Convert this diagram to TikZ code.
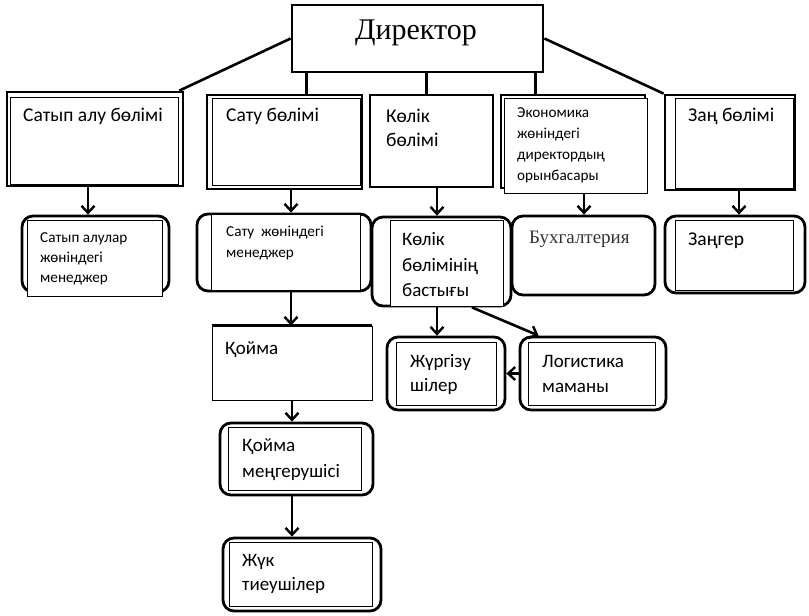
\documentclass[tikz,border=0pt]{standalone}
\usepackage{fontspec}
\setmainfont{Liberation Serif}
\newfontfamily\calfont{Carlito}
\usetikzlibrary{arrows.meta,calc}
\begin{document}
\begin{tikzpicture}[x=1pt,y=-1pt,
  thickbox/.style={draw, line width=2.8pt, inner sep=0, fill=white},
  roundbox/.style={draw, line width=2.8pt, inner sep=0, rounded corners=11pt, fill=white},
  thinbox/.style={draw, line width=0.9pt, inner sep=0, fill=white},
  conn/.style={line width=2.6pt},
  arr/.style={line width=2.6pt, -{Straight Barb[length=7pt,width=13pt,line width=2.4pt]}},
  tA/.style={anchor=base west, inner sep=0, font=\calfont\fontsize{19.5}{21}\selectfont},
  tB/.style={anchor=base west, inner sep=0, font=\calfont\fontsize{15.2}{17}\selectfont},
  tC/.style={anchor=base west, inner sep=0, font=\calfont\fontsize{19}{21}\selectfont}]
\useasboundingbox (0,0) rectangle (809,616);
\fill[white] (0,0) rectangle (809,616);

% Director
\node[thickbox, minimum width=251pt, minimum height=67pt] (dir) at (417.5,38.5) {};
\node[anchor=base, inner sep=0, font=\fontsize{30}{32}\selectfont] (dirt) at (416,39) {Директор};

% level 1
\node[thickbox, minimum width=176pt, minimum height=94pt] (sal) at (95,139) {};
\node[thinbox, minimum width=168pt, minimum height=87pt] (sali) at (94,140.5) {};
\node[tA] (salt) at (23,121) {Сатып алу бөлімі};

\node[thickbox, minimum width=155pt, minimum height=94pt] (satu) at (284.5,142) {};
\node[thinbox, minimum width=148pt, minimum height=87pt] (satui) at (286,141.5) {};
\node[tA] (satut) at (226,121) {Сату бөлімі};

\node[thickbox, minimum width=123pt, minimum height=92pt] (kolik) at (431.5,141) {};
\node[tA] (kolt1) at (386,122) {Көлік};
\node[tA] (kolt2) at (386,146) {бөлімі};

\node[thickbox, minimum width=144pt, minimum height=93pt] (econ) at (573,141.5) {};
\node[thinbox, minimum width=143pt, minimum height=95pt] (econi) at (575.5,145.5) {};
\node[tB] (ect1) at (517,117) {Экономика};
\node[tB] (ect2) at (517,138.5) {жөніндегі};
\node[tB] (ect3) at (517,159.5) {директордың};
\node[tB] (ect4) at (517,180.5) {орынбасары};

\node[thickbox, minimum width=130pt, minimum height=95pt] (zan) at (730,142.5) {};
\node[thinbox, minimum width=118pt, minimum height=90pt] (zani) at (734,143) {};
\node[tA] (zant) at (688,121) {Заң бөлімі};

% director connectors
\path ([xshift=16pt]dir.south west) coordinate (d1);
\path ([xshift=136pt]dir.south west) coordinate (d2);
\path ([xshift=245pt]dir.south west) coordinate (d3);
\draw[conn] (dir.west) -- ([xshift=-5pt]sal.north east);
\draw[conn] (d1) -- (d1 |- satu.north);
\draw[conn] (d2) -- (d2 |- kolik.north);
\draw[conn] (d3) -- (d3 |- econ.north);
\draw[conn] (dir.east) -- (zan.north west);

% level 2
\node[roundbox, minimum width=147pt, minimum height=76pt] (salm) at (95.5,254) {};
\node[thinbox, minimum width=135pt, minimum height=76pt] (salmi) at (94.5,258) {};
\node[tB] (salm1) at (40,242) {Сатып алулар};
\node[tB] (salm2) at (40,262) {жөніндегі};
\node[tB] (salm3) at (40,282) {менеджер};

\node[roundbox, minimum width=174pt, minimum height=77pt] (satum) at (284,252.5) {};
\node[thinbox, minimum width=149pt, minimum height=76pt] (satumi) at (285.5,252) {};
\node[tB] (satm1) at (226,236) {Сату\ \ жөніндегі};
\node[tB] (satm2) at (226,257) {менеджер};

\node[roundbox, minimum width=139pt, minimum height=89pt] (kb) at (441.5,261.5) {};
\node[thinbox, minimum width=113pt, minimum height=86pt] (kbi) at (446.5,263) {};
\node[tC] (kb1) at (402,245) {Көлік};
\node[tC] (kb2) at (402,271) {бөлімінің};
\node[tC] (kb3) at (402,296) {бастығы};

\node[roundbox, minimum width=143pt, minimum height=79pt] (buh) at (583.5,255.5) {};
\node[anchor=base west, inner sep=0, font=\fontsize{19}{21}\selectfont, text=black!80] (buht) at (529,243) {Бухгалтерия};

\node[roundbox, minimum width=140pt, minimum height=77pt] (zang) at (735,254.5) {};
\node[thinbox, minimum width=118pt, minimum height=70pt] (zangi) at (734,255) {};
\node[tA] (zangt) at (688,245) {Заңгер};

% level 1 -> level 2 arrows
\path ([xshift=-7pt]sal.south) coordinate (a1);
\path ([xshift=6.5pt]satu.south) coordinate (a2);
\path ([xshift=5.5pt]kolik.south) coordinate (a3);
\path ([xshift=8.5pt]econi.south) coordinate (a4);
\path ([xshift=9pt]zan.south) coordinate (a5);
\draw[arr] (a1) -- (a1 |- salm.north);
\draw[arr] (a2) -- (a2 |- satum.north);
\draw[arr] (a3) -- (a3 |- kb.north);
\draw[arr] (a4) -- (a4 |- buh.north);
\draw[arr] (a5) -- (a5 |- zang.north);

% transport branch
\node[roundbox, minimum width=118pt, minimum height=73pt] (jur) at (446,373.5) {};
\node[thinbox, minimum width=100pt, minimum height=63pt] (juri) at (446,373.5) {};
\node[tC] (jur1) at (410,367) {Жүргізу};
\node[tC] (jur2) at (410,391) {шілер};

\node[roundbox, minimum width=146pt, minimum height=73pt] (log) at (593,373.5) {};
\node[thinbox, minimum width=127pt, minimum height=63pt] (logi) at (591.5,373.5) {};
\node[tC] (log1) at (542,367) {Логистика};
\node[tC] (log2) at (542,392) {маманы};

\path ([xshift=-4.5pt]kb.south) coordinate (b1);
\draw[arr] (b1) -- (b1 |- jur.north);
\draw[arr] ([xshift=30.5pt]kb.south) -- ([xshift=20pt]log.north west);
\draw[arr] (log.west) -- (jur.east);

% warehouse branch
\node[draw, line width=0.9pt, inner sep=0, minimum width=160pt, minimum height=74pt] (koima) at (292,363) {};
\draw[line width=2.6pt] (koima.north west) -- (koima.north east);
\node[tC] (koimat) at (225,354) {Қойма};

\node[roundbox, minimum width=153pt, minimum height=72pt] (km) at (296.5,459) {};
\node[thinbox, minimum width=133pt, minimum height=63pt] (kmi) at (294.5,458.5) {};
\node[tC] (km1) at (242,451) {Қойма};
\node[tC] (km2) at (242,477) {меңгерушісі};

\node[roundbox, minimum width=158pt, minimum height=73pt] (juk) at (302,574.5) {};
\node[thinbox, minimum width=143pt, minimum height=64pt] (juki) at (300.5,574) {};
\node[tC] (juk1) at (242,566) {Жүк};
\node[tC] (juk2) at (242,590) {тиеушілер};

\path ([xshift=7pt]satum.south) coordinate (c1);
\path ([xshift=-4.5pt]km.south) coordinate (c3);
\draw[arr] (c1) -- (c1 |- koima.north);
\draw[arr] (koima.south) -- (koima.south |- km.north);
\draw[arr] (c3) -- (c3 |- juk.north);
\end{tikzpicture}
\end{document}
